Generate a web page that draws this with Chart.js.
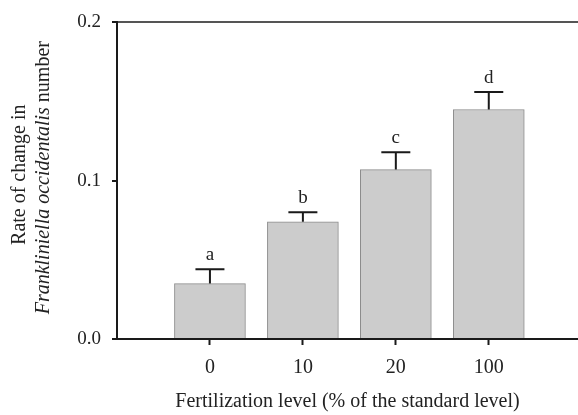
<!DOCTYPE html>
<html>
<head>
<meta charset="utf-8">
<script src="https://cdn.jsdelivr.net/npm/chart.js@4/dist/chart.umd.min.js"></script>
<style>
  html, body { margin: 0; padding: 0; background: #fff; overflow: hidden; }
  #wrap { width: 578px; height: 415px; position: relative; }
</style>
</head>
<body>
<div id="wrap"><canvas id="chart1"></canvas></div>
<script>
var categories = ['0', '10', '20', '100'];
var rates = [0.035, 0.074, 0.107, 0.145];
var errors = [0.009, 0.006, 0.011, 0.011];
var letters = ['a', 'b', 'c', 'd'];
var yTicks = [0.0, 0.1, 0.2];

var serif = '"Liberation Serif", "DejaVu Serif", serif';
var ctx1 = document.getElementById('chart1').getContext('2d');

// error bars (upper half only) and letters above them
var errorBars = {
    id: 'errorBars',
    afterDatasetsDraw: function (chart) {
        var c = chart.ctx;
        var y = chart.scales.y;
        var meta = chart.getDatasetMeta(0);
        c.save();
        c.strokeStyle = '#1a1a1a';
        c.lineWidth = 2;
        c.fillStyle = '#222';
        c.font = '19px ' + serif;
        c.textAlign = 'center';
        c.textBaseline = 'alphabetic';
        meta.data.forEach(function (bar, i) {
            var top = y.getPixelForValue(rates[i]);
            var cap = y.getPixelForValue(rates[i] + errors[i]);
            c.beginPath();
            c.moveTo(bar.x, top);
            c.lineTo(bar.x, cap);
            c.moveTo(bar.x - 14.5, cap);
            c.lineTo(bar.x + 14.5, cap);
            c.stroke();
            c.fillText(letters[i], bar.x, cap - 9);
        });
        c.restore();
    }
};

// two line y title with italic species name
var yTitle = {
    id: 'yTitle',
    afterDraw: function (chart) {
        var c = chart.ctx;
        var area = chart.chartArea;
        var midY = (area.top + area.bottom) / 2 - 3;
        c.save();
        c.fillStyle = '#222';
        c.textBaseline = 'middle';
        c.translate(20, midY);
        c.rotate(-Math.PI / 2);
        c.font = '20px ' + serif;
        c.textAlign = 'center';
        c.fillText('Rate of change in', 3, 0);
        var part1 = 'Frankliniella occidentalis';
        var part2 = ' number';
        c.font = 'italic 20px ' + serif;
        var w1 = c.measureText(part1).width;
        c.font = '20px ' + serif;
        var w2 = c.measureText(part2).width;
        var x0 = -(w1 + w2) / 2;
        c.textAlign = 'left';
        c.font = 'italic 20px ' + serif;
        c.fillText(part1, x0, 24);
        c.font = '20px ' + serif;
        c.fillText(part2, x0 + w1, 24);
        c.restore();
    }
};

var myBarChart = new Chart(ctx1, {
    type: 'bar',
    data: {
        datasets: [{
            data: rates.map(function (v, i) { return { x: i + 1, y: v }; }),
            backgroundColor: '#cccccc',
            borderColor: '#8c8c8c',
            borderWidth: 1,
            barThickness: 71
        }]
    },
    options: {
        responsive: true,
        maintainAspectRatio: false,
        animation: false,
        layout: { padding: { top: 14, left: 0, right: 0, bottom: 0 } },
        plugins: {
            legend: { display: false },
            tooltip: { enabled: false }
        },
        scales: {
            x: {
                type: 'linear',
                offset: false,
                min: 0,
                max: 4.96,
                afterBuildTicks: function (scale) {
                    scale.ticks = categories.map(function (c, i) { return { value: i + 1 }; });
                },
                afterFit: function (scale) { scale.height = 76; },
                ticks: {
                    callback: function (v) { return categories[v - 1]; },
                    color: '#222',
                    font: { family: serif, size: 20 },
                    padding: 11,
                    maxRotation: 0
                },
                grid: {
                    offset: false,
                    drawOnChartArea: false,
                    drawTicks: true,
                    tickLength: 6,
                    tickColor: '#1a1a1a',
                    tickWidth: 2
                },
                border: { color: '#1a1a1a', width: 2 },
                title: {
                    display: true,
                    text: 'Fertilization level (% of the standard level)',
                    color: '#222',
                    font: { family: serif, size: 20 },
                    padding: { top: 4, bottom: 1 }
                }
            },
            y: {
                min: 0,
                max: 0.2,
                afterBuildTicks: function (scale) {
                    scale.ticks = yTicks.map(function (v) { return { value: v }; });
                },
                afterFit: function (scale) { scale.width = 117; },
                ticks: {
                    callback: function (v) { return v.toFixed(1); },
                    color: '#222',
                    font: { family: serif, size: 19 },
                    padding: 11
                },
                grid: {
                    color: function (c) { return c.tick && c.tick.value === 0.2 ? '#555' : 'rgba(0,0,0,0)'; },
                    lineWidth: 2,
                    drawTicks: true,
                    tickLength: 5,
                    tickColor: '#1a1a1a',
                    tickWidth: 2
                },
                border: { color: '#1a1a1a', width: 2 }
            }
        }
    },
    plugins: [errorBars, yTitle]
});
</script>
</body>
</html>
